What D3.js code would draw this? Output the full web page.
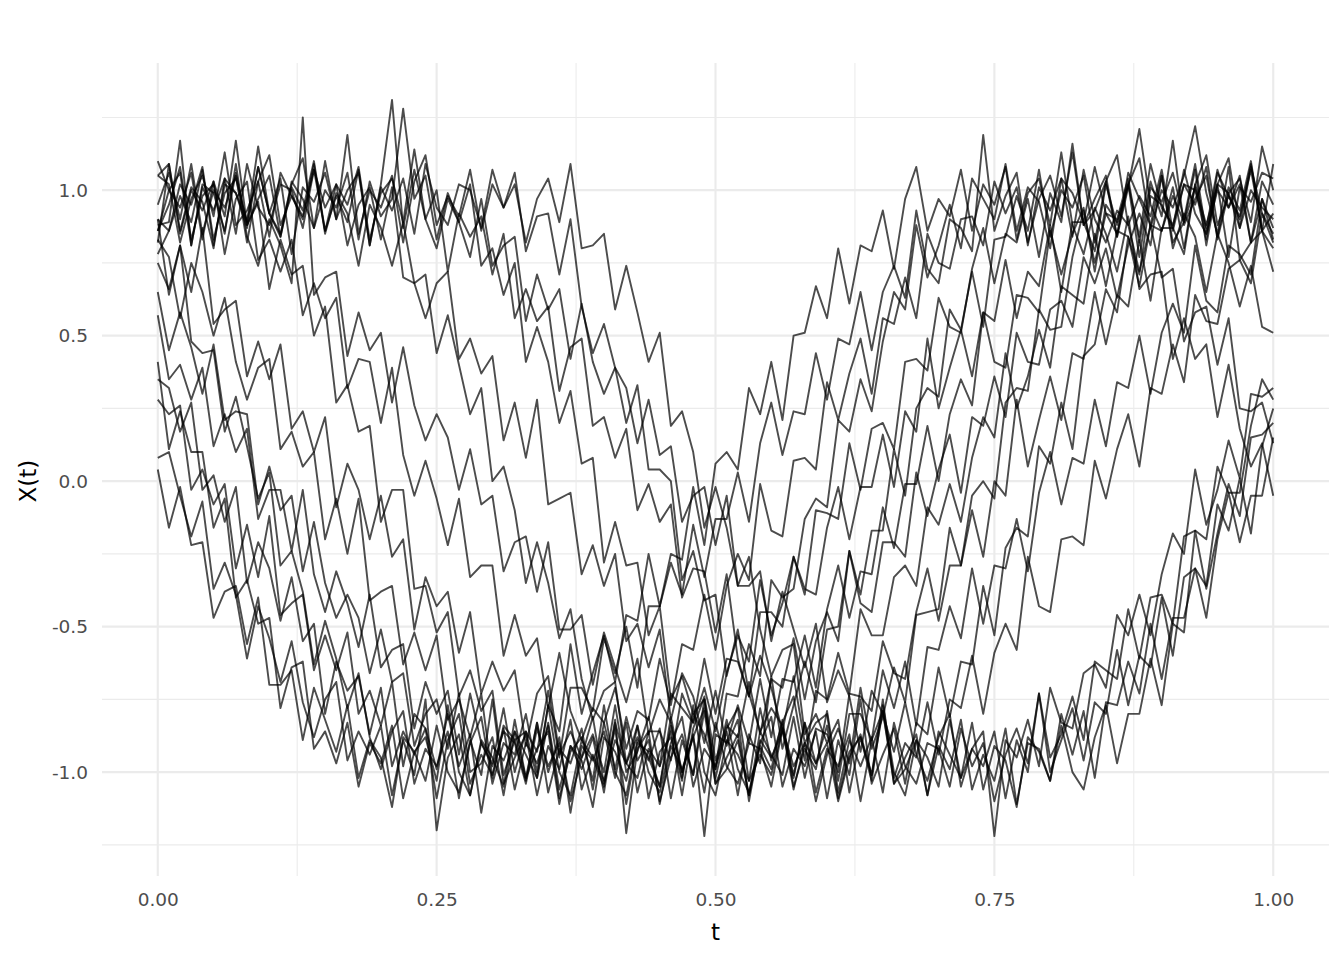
<!DOCTYPE html>
<html><head><meta charset="utf-8">
<script src="https://cdn.jsdelivr.net/npm/d3@7"></script>
<style>body{margin:0;background:#fff}svg{display:block}</style>
</head><body><svg id="chart" width="1344" height="960"></svg>
<script>
const tValues = [0,0.01,0.02,0.03,0.04,0.05,0.06,0.07,0.08,0.09,0.1,0.11,0.12,0.13,0.14,0.15,0.16,0.17,0.18,0.19,0.2,0.21,0.22,0.23,0.24,0.25,0.26,0.27,0.28,0.29,0.3,0.31,0.32,0.33,0.34,0.35,0.36,0.37,0.38,0.39,0.4,0.41,0.42,0.43,0.44,0.45,0.46,0.47,0.48,0.49,0.5,0.51,0.52,0.53,0.54,0.55,0.56,0.57,0.58,0.59,0.6,0.61,0.62,0.63,0.64,0.65,0.66,0.67,0.68,0.69,0.7,0.71,0.72,0.73,0.74,0.75,0.76,0.77,0.78,0.79,0.8,0.81,0.82,0.83,0.84,0.85,0.86,0.87,0.88,0.89,0.9,0.91,0.92,0.93,0.94,0.95,0.96,0.97,0.98,0.99,1];

const curve01 = [0.04,-0.16,-0.02,-0.22,-0.21,-0.47,-0.38,-0.36,-0.56,-0.40,-0.70,-0.70,-0.65,-0.89,-0.71,-0.82,-0.93,-0.77,-1.02,-0.89,-0.95,-1.12,-0.88,-0.93,-1.03,-0.84,-1.00,-1.07,-0.90,-0.81,-1.04,-0.90,-0.94,-0.80,-1.00,-0.77,-0.86,-0.56,-0.80,-0.66,-0.53,-0.69,-0.46,-0.48,-0.25,-0.43,-0.25,-0.27,-0.02,-0.22,0.06,0.10,0.04,0.32,0.23,0.41,0.21,0.50,0.51,0.67,0.56,0.80,0.61,0.81,0.79,0.93,0.73,0.97,1.08,0.86,0.97,0.91,1.07,0.86,1.02,0.95,1.08,0.83,0.99,1.04,0.88,1.13,0.88,0.78,0.94,0.85,0.72,0.91,0.66,0.71,0.72,0.42,0.56,0.42,0.47,0.22,0.40,0.18,0.05,0.13,-0.05];
const curve02 = [0.08,0.10,-0.05,-0.19,-0.07,-0.37,-0.28,-0.39,-0.61,-0.43,-0.54,-0.69,-0.55,-0.76,-0.88,-0.75,-0.69,-0.96,-0.86,-0.94,-0.84,-1.08,-0.89,-1.01,-0.75,-1.20,-0.95,-0.87,-1.08,-0.90,-0.97,-0.78,-1.00,-0.86,-0.93,-0.72,-0.95,-0.71,-0.71,-0.79,-0.54,-0.66,-0.50,-0.71,-0.43,-0.43,-0.28,-0.39,-0.15,-0.33,-0.13,-0.13,0.03,-0.14,0.13,0.27,0.09,0.24,0.23,0.44,0.28,0.49,0.47,0.65,0.45,0.65,0.74,0.63,0.93,0.73,0.68,0.90,0.87,0.79,1.19,0.86,0.98,1.06,0.81,1.01,0.93,1.04,0.84,1.07,0.90,0.82,0.93,0.88,0.72,0.88,0.70,0.73,0.48,0.58,0.60,0.40,0.56,0.25,0.24,0.27,0.13];
const curve03 = [0.28,0.23,0.26,-0.03,0.04,-0.08,-0.01,-0.30,-0.15,-0.33,-0.12,-0.46,-0.42,-0.39,-0.65,-0.53,-0.65,-0.52,-0.80,-0.72,-0.84,-0.69,-0.98,-0.80,-0.85,-0.99,-0.80,-0.98,-0.87,-1.14,-0.91,-0.96,-0.86,-1.02,-0.83,-1.07,-0.92,-0.97,-0.85,-1.06,-0.83,-0.71,-0.92,-0.79,-0.82,-0.61,-0.77,-0.56,-0.58,-0.39,-0.58,-0.36,-0.25,-0.34,-0.01,-0.17,-0.19,0.07,0.08,0.04,0.34,0.21,0.37,0.49,0.30,0.56,0.54,0.70,0.56,0.85,0.75,0.73,0.90,0.91,0.81,1.03,0.92,1.01,0.82,0.97,1.05,0.91,1.13,0.88,0.93,1.03,0.84,1.06,0.97,0.88,1.05,0.80,0.92,0.84,0.65,0.85,0.75,0.60,0.74,0.53,0.51];
const curve04 = [0.35,0.32,0.17,0.27,-0.03,0.02,-0.14,-0.02,-0.35,-0.21,-0.30,-0.48,-0.33,-0.55,-0.49,-0.80,-0.62,-0.72,-0.67,-0.87,-0.71,-0.98,-0.86,-0.94,-0.85,-1.09,-0.89,-0.80,-1.04,-0.94,-1.01,-0.85,-1.06,-0.90,-0.97,-0.84,-1.09,-0.93,-0.88,-1.03,-0.77,-1.00,-1.08,-0.89,-0.95,-1.05,-0.81,-1.00,-0.88,-0.78,-0.99,-0.73,-0.74,-0.56,-0.67,-0.34,-0.40,-0.37,-0.13,-0.06,-0.09,0.21,0.17,0.35,0.24,0.48,0.65,0.59,0.88,0.70,0.81,0.95,0.80,1.04,0.97,0.90,1.09,0.86,1.01,0.96,0.80,1.04,0.99,0.89,1.08,0.92,0.85,1.02,1.11,0.87,1.00,0.94,1.05,1.22,0.99,0.85,1.08,0.76,0.82,0.86,0.72];
const curve05 = [0.41,0.11,0.24,0.10,0.10,-0.16,-0.06,-0.40,-0.34,-0.49,-0.47,-0.78,-0.64,-0.62,-0.92,-0.86,-0.97,-0.83,-1.05,-0.90,-0.97,-0.84,-1.09,-0.93,-0.88,-1.03,-0.77,-1.00,-1.08,-0.89,-0.95,-1.05,-0.82,-1.02,-0.92,-0.86,-1.11,-0.91,-0.99,-0.88,-1.07,-0.83,-0.97,-1.02,-0.86,-0.86,-0.96,-0.73,-0.83,-0.71,-0.86,-0.66,-0.53,-0.62,-0.34,-0.53,-0.42,-0.26,-0.39,-0.10,-0.11,-0.13,0.13,-0.03,0.18,0.20,0.11,0.41,0.42,0.38,0.63,0.53,0.51,0.73,0.87,0.68,0.85,0.82,0.97,0.77,0.99,0.89,1.16,0.88,0.97,1.05,0.84,1.01,1.21,0.95,0.86,0.98,0.89,1.07,0.81,1.02,0.99,0.87,1.08,0.92,0.85];
const curve06 = [0.57,0.35,0.40,0.28,0.39,0.12,0.23,0.10,0.18,-0.13,-0.03,-0.03,-0.24,-0.03,-0.32,-0.45,-0.31,-0.42,-0.57,-0.39,-0.64,-0.58,-0.56,-0.85,-0.69,-0.80,-0.72,-0.94,-0.73,-0.90,-0.98,-0.86,-0.90,-1.04,-0.85,-0.98,-0.90,-1.10,-0.95,-0.87,-1.00,-0.77,-1.00,-0.93,-0.81,-0.98,-0.73,-0.78,-0.83,-0.61,-0.80,-0.61,-0.62,-0.74,-0.45,-0.45,-0.50,-0.26,-0.37,-0.39,-0.16,-0.02,-0.20,-0.02,-0.02,0.16,-0.02,0.24,0.17,0.49,0.25,0.39,0.52,0.36,0.58,0.55,0.76,0.56,0.72,0.67,0.88,0.65,0.89,0.89,0.79,1.02,0.88,1.02,0.77,1.01,0.96,1.06,0.90,1.09,0.85,1.00,0.94,1.05,0.82,1.03,0.95];
const curve07 = [0.65,0.45,0.58,0.46,0.30,0.47,0.21,0.24,0.23,-0.08,0.05,-0.10,-0.05,-0.31,-0.14,-0.35,-0.47,-0.39,-0.47,-0.66,-0.51,-0.69,-0.66,-0.91,-0.80,-0.75,-0.92,-0.73,-1.00,-0.97,-0.88,-1.08,-0.86,-0.94,-1.02,-0.83,-1.06,-0.91,-0.96,-1.12,-0.88,-0.93,-1.03,-0.84,-1.00,-1.07,-0.90,-0.81,-1.05,-0.92,-0.98,-0.86,-1.08,-0.87,-0.97,-0.67,-0.92,-0.77,-0.62,-0.76,-0.51,-0.50,-0.24,-0.39,-0.17,-0.17,0.11,-0.05,0.25,0.32,0.29,0.59,0.52,0.72,0.53,0.83,0.84,0.98,0.86,1.07,0.84,1.00,0.94,1.05,0.82,1.03,1.12,0.88,0.98,0.91,1.07,0.86,1.02,0.95,1.08,0.83,0.99,1.04,0.89,1.15,1.00];
const curve08 = [0.75,0.66,0.81,0.48,0.44,0.45,0.17,0.29,0.12,-0.06,0.03,-0.29,-0.24,-0.38,-0.63,-0.48,-0.61,-0.78,-0.66,-0.88,-0.99,-0.86,-0.79,-1.04,-0.92,-0.98,-0.86,-1.09,-0.89,-1.01,-0.75,-1.04,-0.95,-0.87,-1.08,-0.91,-0.99,-0.82,-1.06,-0.94,-1.03,-0.85,-1.11,-0.90,-0.93,-1.05,-0.84,-1.00,-0.87,-1.22,-0.87,-0.90,-0.77,-0.90,-0.68,-0.88,-0.68,-0.69,-0.53,-0.71,-0.44,-0.29,-0.47,-0.31,-0.32,-0.09,-0.23,-0.01,-0.01,0.19,0.00,0.23,0.35,0.26,0.58,0.41,0.39,0.64,0.63,0.58,0.86,0.71,0.85,0.94,0.72,0.95,0.89,1.02,0.84,1.09,0.94,0.88,1.02,1.00,0.87,1.07,0.94,1.02,0.82,0.97,0.83];
const curve09 = [0.83,0.77,0.56,0.75,0.65,0.50,0.63,0.41,0.28,0.39,0.42,0.11,0.17,0.05,0.10,-0.20,-0.06,-0.25,-0.06,-0.41,-0.38,-0.36,-0.63,-0.52,-0.65,-0.53,-0.82,-0.75,-0.88,-0.73,-1.02,-0.84,-0.89,-1.03,-0.83,-1.00,-0.88,-1.14,-0.91,-0.96,-0.86,-1.02,-0.83,-1.07,-0.92,-0.98,-0.86,-1.08,-0.85,-0.74,-0.96,-0.84,-0.88,-0.69,-0.87,-0.68,-0.71,-0.54,-0.75,-0.55,-0.45,-0.55,-0.24,-0.42,-0.45,-0.21,-0.21,-0.26,0.03,-0.12,0.04,0.16,-0.04,0.22,0.19,0.36,0.22,0.51,0.41,0.40,0.59,0.62,0.53,0.77,0.68,0.80,0.63,0.81,0.92,0.81,1.05,0.82,0.89,1.01,0.83,1.06,0.98,0.90,1.09,0.86,1.09];
const curve10 = [0.90,0.64,0.81,0.65,0.87,0.54,0.59,0.62,0.36,0.48,0.35,0.47,0.18,0.24,0.10,0.22,-0.09,0.06,-0.03,-0.20,-0.05,-0.26,-0.20,-0.51,-0.33,-0.43,-0.38,-0.59,-0.45,-0.73,-0.62,-0.72,-0.65,-0.91,-0.73,-0.67,-0.94,-0.86,-0.95,-0.81,-1.04,-0.89,-0.97,-0.84,-1.09,-0.93,-0.88,-1.03,-0.77,-1.00,-1.08,-0.89,-0.94,-1.03,-0.78,-0.96,-0.83,-0.74,-0.96,-0.72,-0.75,-0.59,-0.73,-0.44,-0.53,-0.53,-0.33,-0.29,-0.36,-0.09,-0.15,-0.01,-0.14,0.08,0.22,0.15,0.44,0.25,0.36,0.52,0.39,0.67,0.64,0.61,0.85,0.67,0.86,0.84,0.71,0.98,0.95,0.87,1.07,0.92,0.85,1.02,1.11,0.87,1.00,0.94,0.90];
const curve11 = [0.88,0.89,1.17,0.81,1.02,0.99,0.86,1.06,0.88,0.96,0.66,0.83,0.71,0.74,0.50,0.60,0.27,0.33,0.17,0.19,-0.14,-0.03,-0.03,-0.37,-0.36,-0.52,-0.45,-0.74,-0.65,-0.79,-0.72,-1.01,-0.89,-0.86,-1.02,-0.77,-1.00,-1.08,-0.89,-0.95,-1.05,-0.82,-1.21,-0.92,-0.86,-1.11,-0.91,-0.99,-0.88,-1.07,-0.83,-0.98,-1.04,-0.90,-0.92,-1.05,-0.85,-0.98,-0.90,-1.10,-0.94,-0.85,-0.97,-0.71,-0.92,-0.81,-0.64,-0.76,-0.46,-0.45,-0.44,-0.16,-0.29,-0.05,0.00,-0.06,0.27,0.32,0.31,0.59,0.52,0.53,0.77,0.93,0.75,0.92,0.90,1.04,0.82,1.03,0.91,1.17,0.88,0.97,1.05,0.84,1.01,0.93,1.10,0.86,0.80];
const curve12 = [1.05,1.09,0.85,1.00,0.93,1.03,0.78,0.97,1.03,0.76,0.83,0.72,0.83,0.57,0.68,0.56,0.63,0.32,0.42,0.41,0.20,0.39,0.09,-0.05,0.07,-0.06,-0.22,-0.06,-0.33,-0.29,-0.29,-0.60,-0.46,-0.60,-0.54,-0.78,-0.59,-0.79,-0.89,-0.78,-0.83,-0.99,-0.81,-0.96,-0.89,-1.10,-0.95,-0.87,-1.01,-0.79,-1.04,-0.99,-0.89,-1.08,-0.86,-0.94,-1.01,-0.81,-1.02,-0.85,-0.87,-1.00,-0.73,-0.74,-0.79,-0.55,-0.66,-0.68,-0.45,-0.30,-0.48,-0.29,-0.29,-0.10,-0.26,0.00,-0.05,0.28,0.05,0.21,0.36,0.21,0.44,0.42,0.65,0.47,0.64,0.60,0.83,0.62,0.87,0.87,0.78,1.02,0.88,1.02,0.77,1.01,0.96,1.06,1.04];
const curve13 = [0.86,0.95,1.08,0.83,0.98,1.02,0.85,1.09,0.84,0.74,0.90,0.81,0.68,1.25,0.64,0.70,0.72,0.43,0.58,0.45,0.51,0.27,0.46,0.26,0.14,0.23,0.15,-0.03,0.11,-0.08,-0.05,-0.31,-0.21,-0.19,-0.38,-0.21,-0.51,-0.51,-0.46,-0.70,-0.52,-0.64,-0.76,-0.61,-0.87,-0.75,-0.83,-1.02,-0.80,-0.87,-0.99,-0.82,-0.99,-1.07,-0.90,-0.81,-1.05,-0.92,-0.98,-0.86,-1.09,-0.89,-1.01,-0.75,-1.04,-0.94,-0.85,-1.04,-0.83,-0.87,-0.64,-0.81,-0.62,-0.63,-0.36,-0.53,-0.23,-0.16,-0.19,0.12,0.06,0.27,0.11,0.43,0.47,0.66,0.58,0.84,0.67,0.88,0.86,1.01,0.80,1.02,1.12,0.88,0.98,0.91,1.07,0.86,0.92];
const curve14 = [0.86,1.00,1.06,0.81,1.01,0.93,1.04,0.85,1.09,0.94,0.88,1.02,1.00,0.87,1.07,0.94,1.02,0.81,0.95,1.01,0.83,1.01,0.70,0.68,0.71,0.44,0.57,0.40,0.23,0.32,0.00,0.05,-0.10,-0.35,-0.21,-0.35,-0.54,-0.44,-0.68,-0.82,-0.72,-0.69,-0.97,-0.88,-0.96,-0.85,-1.09,-0.89,-1.01,-0.75,-1.04,-0.95,-0.87,-1.08,-0.91,-0.99,-0.82,-1.05,-0.92,-0.99,-0.79,-1.03,-0.80,-0.80,-0.89,-0.65,-0.78,-0.62,-0.84,-0.57,-0.58,-0.43,-0.54,-0.30,-0.49,-0.29,-0.30,-0.13,-0.31,-0.04,0.10,-0.08,0.08,0.06,0.28,0.12,0.34,0.32,0.50,0.30,0.51,0.61,0.51,0.81,0.62,0.58,0.81,0.78,0.71,0.97,0.87];
const curve15 = [1.05,1.02,0.82,0.97,1.05,0.91,1.13,0.88,0.93,1.03,0.84,1.06,0.98,0.90,1.09,0.85,0.99,0.92,0.74,0.95,0.87,0.74,0.89,0.68,0.56,0.68,0.72,0.42,0.49,0.37,0.43,0.14,0.27,0.08,0.28,-0.08,-0.06,-0.04,-0.32,-0.22,-0.36,-0.25,-0.55,-0.49,-0.64,-0.51,-0.82,-0.66,-0.74,-0.90,-0.72,-0.91,-0.82,-1.10,-0.89,-0.95,-0.86,-1.02,-0.83,-1.07,-0.92,-0.98,-0.87,-1.10,-0.89,-0.79,-1.02,-0.90,-0.95,-0.76,-0.94,-0.75,-0.78,-0.60,-0.80,-0.59,-0.49,-0.58,-0.26,-0.43,-0.45,-0.20,-0.19,-0.22,0.07,-0.06,0.11,0.23,0.05,0.32,0.30,0.47,0.34,0.64,0.55,0.54,0.73,0.76,0.68,0.92,0.82];
const curve16 = [0.82,1.09,0.86,1.01,0.96,0.80,1.04,0.99,0.89,1.08,0.92,0.85,1.02,1.11,0.87,1.00,0.94,1.06,0.83,1.03,0.91,0.97,1.28,0.97,1.05,0.83,0.99,0.89,1.02,0.74,0.80,0.64,0.75,0.41,0.53,0.41,0.20,0.31,0.06,0.08,-0.28,-0.14,-0.29,-0.28,-0.53,-0.43,-0.75,-0.67,-0.80,-0.75,-1.02,-0.85,-0.78,-1.03,-0.94,-1.01,-0.85,-1.06,-0.90,-0.97,-0.84,-1.09,-0.93,-0.88,-1.03,-0.77,-1.00,-1.08,-0.89,-0.95,-1.05,-0.82,-1.02,-0.92,-0.86,-1.22,-0.89,-0.95,-0.82,-0.98,-0.71,-0.83,-0.85,-0.66,-0.63,-0.71,-0.46,-0.53,-0.39,-0.53,-0.32,-0.18,-0.25,0.04,-0.15,-0.03,0.14,0.01,0.30,0.29,0.32];
const curve17 = [1.10,1.00,0.94,1.06,0.83,1.03,0.91,1.17,0.88,0.97,1.05,0.84,1.01,0.93,1.10,0.86,0.98,0.89,1.07,0.81,1.02,1.31,0.87,1.07,0.90,1.00,0.72,0.92,0.84,0.91,0.71,0.85,0.56,0.66,0.55,0.60,0.31,0.46,0.49,0.19,0.22,0.08,0.18,-0.10,-0.01,-0.14,-0.08,-0.40,-0.30,-0.31,-0.52,-0.32,-0.61,-0.74,-0.60,-0.71,-0.86,-0.67,-0.90,-0.83,-0.80,-1.07,-0.89,-0.98,-0.88,-1.07,-0.83,-0.98,-1.04,-0.90,-0.92,-1.05,-0.85,-0.98,-0.90,-1.10,-0.94,-0.85,-0.97,-0.73,-0.95,-0.87,-0.74,-0.89,-0.62,-0.65,-0.68,-0.44,-0.61,-0.40,-0.39,-0.49,-0.19,-0.17,-0.20,0.05,-0.04,-0.04,0.19,0.35,0.28];
const curve18 = [0.90,0.86,0.98,0.89,1.07,0.81,1.02,0.99,0.87,1.08,0.92,1.04,0.78,1.01,0.96,1.06,0.90,1.19,0.85,1.00,0.94,1.05,0.82,1.03,1.12,0.88,0.98,0.91,1.07,0.86,1.02,0.94,1.06,0.79,0.91,0.92,0.71,0.90,0.60,0.44,0.54,0.39,0.20,0.33,0.04,0.04,0.00,-0.34,-0.24,-0.41,-0.39,-0.67,-0.51,-0.73,-0.86,-0.78,-0.84,-1.01,-0.83,-0.97,-0.90,-1.10,-0.95,-0.87,-1.01,-0.79,-1.04,-0.99,-0.89,-1.08,-0.86,-0.94,-1.02,-0.83,-1.06,-0.91,-0.96,-1.12,-0.88,-0.93,-1.03,-0.84,-1.00,-1.06,-0.88,-0.77,-0.97,-0.80,-0.80,-0.61,-0.77,-0.49,-0.52,-0.17,-0.37,-0.18,-0.01,-0.12,0.15,0.16,0.20];
const curve19 = [0.95,1.06,0.90,1.09,0.85,1.00,0.94,1.05,0.82,1.03,1.12,0.88,0.98,0.91,1.07,0.86,1.02,0.95,1.08,0.83,0.99,1.04,0.89,1.14,0.90,0.80,0.97,0.89,0.77,0.97,0.74,0.81,0.84,0.55,0.71,0.59,0.66,0.42,0.61,0.41,0.30,0.39,0.32,0.13,0.28,0.09,0.12,-0.14,-0.05,-0.02,-0.22,-0.05,-0.36,-0.36,-0.31,-0.55,-0.38,-0.51,-0.64,-0.49,-0.76,-0.65,-0.74,-0.93,-0.72,-0.80,-0.93,-0.76,-0.94,-1.03,-0.88,-0.80,-1.05,-0.92,-0.98,-0.86,-1.09,-0.89,-1.00,-0.73,-1.00,-0.89,-0.78,-0.96,-0.76,-0.80,-0.58,-0.77,-0.60,-0.64,-0.40,-0.60,-0.33,-0.30,-0.36,-0.08,-0.17,0.01,-0.18,0.12,0.25];
const curve20 = [0.78,0.86,1.02,0.95,1.08,0.83,0.99,1.04,0.89,1.15,0.92,0.84,1.03,0.97,0.87,1.10,0.90,1.00,1.06,0.81,1.01,0.93,1.04,0.85,1.09,0.94,0.88,1.02,1.00,0.87,1.07,0.94,1.02,0.82,0.97,1.04,0.89,1.09,0.80,0.81,0.85,0.59,0.74,0.58,0.41,0.51,0.19,0.24,0.10,-0.16,-0.02,-0.16,-0.36,-0.26,-0.51,-0.67,-0.58,-0.56,-0.87,-0.80,-0.90,-0.82,-1.07,-0.88,-1.01,-0.75,-1.04,-0.95,-0.87,-1.08,-0.91,-0.99,-0.82,-1.06,-0.94,-1.03,-0.85,-1.11,-0.90,-0.92,-1.03,-0.80,-0.94,-0.79,-1.02,-0.76,-0.77,-0.62,-0.73,-0.49,-0.68,-0.47,-0.47,-0.30,-0.47,-0.20,-0.04,-0.21,-0.05,-0.05,0.15];

const xTicks = [0, 0.25, 0.5, 0.75, 1];
const xTickLabels = ["0.00", "0.25", "0.50", "0.75", "1.00"];
const xMinor = [0.125, 0.375, 0.625, 0.875];
const yTicks = [-1, -0.5, 0, 0.5, 1];
const yTickLabels = ["-1.0", "-0.5", "0.0", "0.5", "1.0"];
const yMinor = [-1.25, -0.75, -0.25, 0.25, 0.75, 1.25];
const xTitle = "t";
const yTitle = "X(t)";

const curves = [curve01, curve02, curve03, curve04, curve05, curve06, curve07, curve08, curve09, curve10,
                curve11, curve12, curve13, curve14, curve15, curve16, curve17, curve18, curve19, curve20];

const svg = d3.select("#chart");
const font = "'DejaVu Sans', 'Liberation Sans', Arial, sans-serif";
const panel = {left: 102, right: 1329, top: 63, bottom: 876};

const x = d3.scaleLinear().domain([-0.05, 1.05]).range([panel.left, panel.right]);
const y = d3.scaleLinear().domain([-1.357, 1.437]).range([panel.bottom, panel.top]);

const grid = svg.append("g");
grid.selectAll("line.xminor").data(xMinor).join("line")
  .attr("x1", d => x(d)).attr("x2", d => x(d))
  .attr("y1", panel.top).attr("y2", panel.bottom)
  .attr("stroke", "#ebebeb").attr("stroke-width", 1.07);
grid.selectAll("line.yminor").data(yMinor).join("line")
  .attr("x1", panel.left).attr("x2", panel.right)
  .attr("y1", d => y(d)).attr("y2", d => y(d))
  .attr("stroke", "#ebebeb").attr("stroke-width", 1.07);
grid.selectAll("line.xmajor").data(xTicks).join("line")
  .attr("x1", d => x(d)).attr("x2", d => x(d))
  .attr("y1", panel.top).attr("y2", panel.bottom)
  .attr("stroke", "#ebebeb").attr("stroke-width", 2.13);
grid.selectAll("line.ymajor").data(yTicks).join("line")
  .attr("x1", panel.left).attr("x2", panel.right)
  .attr("y1", d => y(d)).attr("y2", d => y(d))
  .attr("stroke", "#ebebeb").attr("stroke-width", 2.13);

const line = d3.line().x((d, i) => x(tValues[i])).y(d => y(d));
svg.append("g").selectAll("path").data(curves).join("path")
  .attr("d", line)
  .attr("fill", "none")
  .attr("stroke", "#000")
  .attr("stroke-opacity", 0.7)
  .attr("stroke-width", 1.9)
  .attr("stroke-linejoin", "round");

const xAxis = d3.axisBottom(x).tickValues(xTicks).tickFormat((d, i) => xTickLabels[i]).tickSize(0).tickPadding(17);
const gx = svg.append("g").attr("transform", `translate(0,${panel.bottom})`).call(xAxis);
gx.select(".domain").remove();
gx.attr("font-family", font).attr("font-size", 18.5);
gx.selectAll("text").attr("font-family", font).attr("font-size", 18.5).attr("fill", "#4d4d4d");

const yAxis = d3.axisLeft(y).tickValues(yTicks).tickFormat((d, i) => yTickLabels[i]).tickSize(0).tickPadding(14);
const gy = svg.append("g").attr("transform", `translate(${panel.left},0)`).call(yAxis);
gy.select(".domain").remove();
gy.attr("font-family", font).attr("font-size", 18.5);
gy.selectAll("text").attr("font-family", font).attr("font-size", 18.5).attr("fill", "#4d4d4d");

svg.append("text").attr("x", x(0.5)).attr("y", 940)
  .attr("text-anchor", "middle").attr("font-family", font).attr("font-size", 23).attr("fill", "#000")
  .text(xTitle);
svg.append("text").attr("transform", `translate(36,${y(0)}) rotate(-90)`)
  .attr("text-anchor", "middle").attr("font-family", font).attr("font-size", 23).attr("fill", "#000")
  .text(yTitle);
</script></body></html>
